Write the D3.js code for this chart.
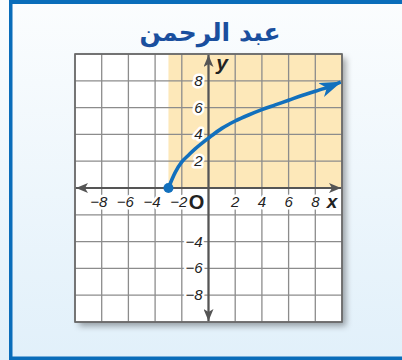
<!DOCTYPE html>
<html>
<head>
<meta charset="utf-8">
<script src="https://cdn.jsdelivr.net/npm/d3@7"></script>
<style>
  html, body { margin: 0; padding: 0; background: #fff; }
  svg { display: block; }
</style>
</head>
<body>
<div id="chart"></div>
<script>
// title and tick labels
const title = "عبد الرحمن";
const xTicks = [-8, -6, -4, -2, 2, 4, 6, 8];
const yTicks = [-8, -6, -4, 2, 4, 6, 8];
const gridValues = [-10, -8, -6, -4, -2, 0, 2, 4, 6, 8, 10];

// shaded region (domain x >= -3, range y >= 0)
const shadeX = [-3, 10];
const shadeY = [0, 10];

// curve
const curveX = [-3, -2.5, -2, -1.5, -1, 0, 1, 2, 3, 4, 5, 6, 7, 8, 9, 9.9];
const curveY = [0, 1.15, 1.95, 2.45, 2.92, 3.72, 4.45, 5.0, 5.45, 5.85, 6.2, 6.55, 6.9, 7.22, 7.55, 7.9];

const width = 402, height = 360;

const svg = d3.select("#chart").append("svg")
  .attr("width", width)
  .attr("height", height);

const defs = svg.append("defs");

const grad = defs.append("linearGradient")
  .attr("id", "bg").attr("x1", 0).attr("y1", 0).attr("x2", 0).attr("y2", 1);
grad.append("stop").attr("offset", "0%").attr("stop-color", "#fbfdfe");
grad.append("stop").attr("offset", "100%").attr("stop-color", "#e1f0fa");

const shadow = defs.append("filter").attr("id", "shadow")
  .attr("x", "-10%").attr("y", "-10%").attr("width", "130%").attr("height", "130%");
shadow.append("feDropShadow")
  .attr("dx", 4).attr("dy", 4).attr("stdDeviation", 3)
  .attr("flood-color", "#000").attr("flood-opacity", 0.35);

// arrow markers
defs.append("marker")
  .attr("id", "axisArrow")
  .attr("viewBox", "0 0 12 10")
  .attr("refX", 12).attr("refY", 5)
  .attr("markerWidth", 12).attr("markerHeight", 10)
  .attr("markerUnits", "userSpaceOnUse")
  .attr("orient", "auto-start-reverse")
  .append("path")
  .attr("d", "M0,0 L12,5 L0,10 L3,5 Z")
  .attr("fill", "#555");

defs.append("marker")
  .attr("id", "curveArrow")
  .attr("viewBox", "0 0 22 15")
  .attr("refX", 21).attr("refY", 7.5)
  .attr("markerWidth", 22).attr("markerHeight", 15)
  .attr("markerUnits", "userSpaceOnUse")
  .attr("orient", "auto")
  .append("path")
  .attr("d", "M0,0 L22,7.5 L0,15 L6,7.5 Z")
  .attr("fill", "#1270bd");

// background and frame
svg.append("rect").attr("x", 0).attr("y", 0).attr("width", width).attr("height", height)
  .attr("fill", "url(#bg)");
svg.append("rect").attr("x", 9).attr("y", 0).attr("width", width - 9).attr("height", 4).attr("fill", "#0a6dba");
svg.append("rect").attr("x", 9).attr("y", 0).attr("width", 3.5).attr("height", height).attr("fill", "#0a6dba");
svg.append("rect").attr("x", 9).attr("y", height - 3.5).attr("width", width - 9).attr("height", 3.5).attr("fill", "#0a6dba");

svg.append("text")
  .attr("x", 210).attr("y", 41)
  .attr("text-anchor", "middle")
  .attr("font-family", "DejaVu Sans, Noto Sans")
  .attr("font-weight", "bold")
  .attr("font-size", 25)
  .attr("fill", "#1a4f9e")
  .text(title);

const x = d3.scaleLinear().domain([-10, 10]).range([75, 342]);
const y = d3.scaleLinear().domain([-10, 10]).range([322, 54]);

// paper with shadow
svg.append("rect")
  .attr("x", x(-10)).attr("y", y(10))
  .attr("width", x(10) - x(-10)).attr("height", y(-10) - y(10))
  .attr("fill", "#fff")
  .attr("filter", "url(#shadow)");

svg.append("rect")
  .attr("x", x(shadeX[0])).attr("y", y(shadeY[1]))
  .attr("width", x(shadeX[1]) - x(shadeX[0]))
  .attr("height", y(shadeY[0]) - y(shadeY[1]))
  .attr("fill", "#fde8b9");

const grid = svg.append("g").attr("stroke", "#8c8c8c").attr("stroke-width", 1.3);
grid.selectAll("line.v").data(gridValues).join("line")
  .attr("class", "v")
  .attr("x1", d => x(d)).attr("x2", d => x(d))
  .attr("y1", y(10)).attr("y2", y(-10));
grid.selectAll("line.h").data(gridValues).join("line")
  .attr("class", "h")
  .attr("y1", d => y(d)).attr("y2", d => y(d))
  .attr("x1", x(-10)).attr("x2", x(10));

svg.append("rect")
  .attr("x", x(-10)).attr("y", y(10))
  .attr("width", x(10) - x(-10)).attr("height", y(-10) - y(10))
  .attr("fill", "none").attr("stroke", "#666").attr("stroke-width", 1.6);

// tick labels with white halo
const labelStyle = sel => sel
  .attr("font-family", "Liberation Sans, Arial, sans-serif")
  .attr("font-style", "italic")
  .attr("font-size", 15)
  .attr("fill", "#222")
  .attr("stroke", "#fff")
  .attr("stroke-width", 5)
  .attr("paint-order", "stroke")
  .attr("stroke-linejoin", "round");

const fmt = d => (d < 0 ? "\u2212" : "") + Math.abs(d);

svg.append("g").selectAll("text").data(xTicks).join("text")
  .attr("x", d => x(d) - (d < 0 ? 3 : 0))
  .attr("y", y(0) + 19)
  .attr("text-anchor", "middle")
  .call(labelStyle)
  .text(fmt);

svg.append("g").selectAll("text").data(yTicks).join("text")
  .attr("x", x(0) - 6)
  .attr("y", d => y(d) + 5)
  .attr("text-anchor", "end")
  .call(labelStyle)
  .text(fmt);

// axes
svg.append("line")
  .attr("x1", x(-10) + 1).attr("x2", x(10) - 1)
  .attr("y1", y(0)).attr("y2", y(0))
  .attr("stroke", "#555").attr("stroke-width", 2.2)
  .attr("marker-start", "url(#axisArrow)")
  .attr("marker-end", "url(#axisArrow)");

svg.append("line")
  .attr("x1", x(0)).attr("x2", x(0))
  .attr("y1", y(10) + 1).attr("y2", y(-10) - 1)
  .attr("stroke", "#555").attr("stroke-width", 2.2)
  .attr("marker-start", "url(#axisArrow)")
  .attr("marker-end", "url(#axisArrow)");

svg.append("text")
  .attr("x", x(0) - 12).attr("y", y(0) + 21)
  .attr("text-anchor", "middle")
  .attr("font-family", "Liberation Sans, Arial, sans-serif")
  .attr("font-weight", "bold")
  .attr("font-size", 20)
  .attr("fill", "#222")
  .text("O");

svg.append("text")
  .attr("x", 332).attr("y", y(0) + 20)
  .attr("text-anchor", "middle")
  .attr("font-family", "Liberation Sans, Arial, sans-serif")
  .attr("font-weight", "bold").attr("font-style", "italic")
  .attr("font-size", 19)
  .attr("fill", "#222")
  .text("x");

svg.append("text")
  .attr("x", 222).attr("y", 70)
  .attr("text-anchor", "middle")
  .attr("font-family", "Liberation Sans, Arial, sans-serif")
  .attr("font-weight", "bold").attr("font-style", "italic")
  .attr("font-size", 21)
  .attr("fill", "#222")
  .text("y");

// curve
const pts = curveX.map((d, i) => [d, curveY[i]]);
const line = d3.line()
  .x(d => x(d[0]))
  .y(d => y(d[1]))
  .curve(d3.curveCatmullRom);

svg.append("path")
  .datum(pts)
  .attr("d", line)
  .attr("fill", "none")
  .attr("stroke", "#1270bd")
  .attr("stroke-width", 3.6)
  .attr("marker-end", "url(#curveArrow)");

svg.append("circle")
  .attr("cx", x(curveX[0])).attr("cy", y(curveY[0]))
  .attr("r", 5)
  .attr("fill", "#1270bd");
</script>
</body>
</html>
